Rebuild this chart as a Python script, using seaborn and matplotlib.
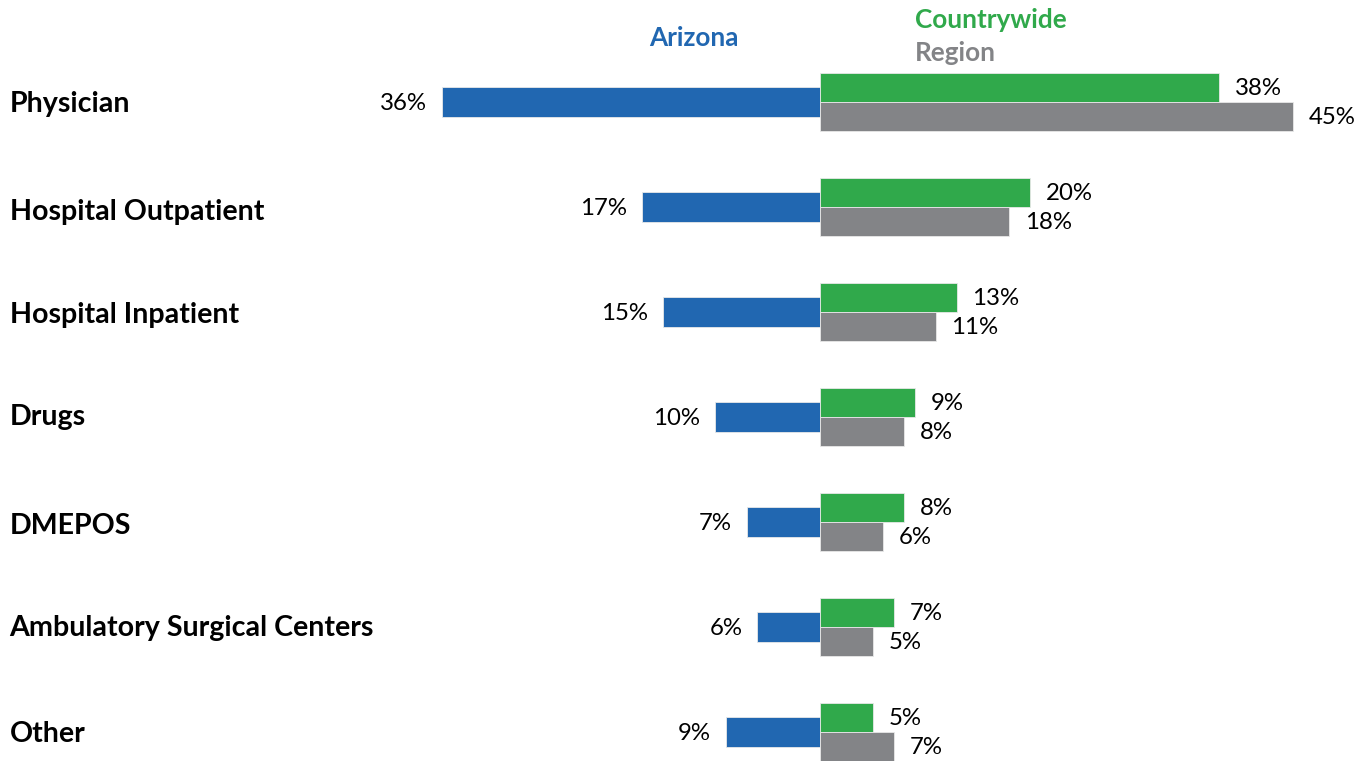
import numpy as np
import pandas as pd
import matplotlib
matplotlib.use("Agg")
import matplotlib.pyplot as plt
import matplotlib.transforms as mtransforms
import seaborn as sns

# ── Data ─────────────────────────────────────────────────────
categories = ["Physician", "Hospital Outpatient", "Hospital Inpatient", "Drugs",
              "DMEPOS", "Ambulatory Surgical Centers", "Other"]
arizona     = [36, 17, 15, 10, 7, 6, 9]
countrywide = [38, 20, 13, 9, 8, 7, 5]
region      = [45, 18, 11, 8, 6, 5, 7]

BLUE, GREEN, GRAY = "#2167B1", "#30A94B", "#838487"

sns.set_style("white")
plt.rcParams["font.family"] = ["Lato", "DejaVu Sans"]

fig = plt.figure(figsize=(13.72, 7.61), dpi=100)
ax = fig.add_axes([0, 0, 1, 1])

az_df = pd.DataFrame({"cat": categories, "val": [-v for v in arizona]})
cr_df = pd.DataFrame({
    "cat": categories * 2,
    "val": countrywide + region,
    "grp": ["Countrywide"] * len(categories) + ["Region"] * len(categories),
})

sns.barplot(data=az_df, x="val", y="cat", orient="h", color=BLUE,
            width=0.28, saturation=1, ax=ax, errorbar=None)
sns.barplot(data=cr_df, x="val", y="cat", hue="grp", orient="h",
            palette=[GREEN, GRAY], width=0.56, saturation=1, ax=ax,
            errorbar=None, legend=False)

for p in ax.patches:
    p.set_edgecolor("#e8e8e8")
    p.set_linewidth(0.6)

ax.set_xlim(-78.1, 52.57)
ax.set_ylim(6.276, -0.971)
ax.axis("off")

pos = np.arange(len(categories))
for i in pos:
    ax.text(-arizona[i] - 1.4, i + 0.01, f"{arizona[i]}%", ha="right", va="center",
            fontsize=17.3, color="black")
    ax.text(countrywide[i] + 1.5, i - 0.13, f"{countrywide[i]}%", ha="left",
            va="center", fontsize=17.3, color="black")
    ax.text(region[i] + 1.5, i + 0.15, f"{region[i]}%", ha="left",
            va="center", fontsize=17.3, color="black")

# category labels on the left
trans = mtransforms.blended_transform_factory(fig.transFigure, ax.transData)
label_offsets = [0.02, 0.05, 0.03, 0.0, 0.04, 0.01, 0.02]
for i, (c, off) in enumerate(zip(categories, label_offsets)):
    ax.text(0.007, i + off, c, transform=trans, ha="left", va="center",
            fontsize=20.6, fontweight="bold", color="black")

# headers
fig.text(694 / 1372, 1 - 38 / 761, "Arizona", ha="center", va="center",
         fontsize=18.8, fontweight="bold", color=BLUE)
fig.text(915 / 1372, 1 - 20 / 761, "Countrywide", ha="left", va="center",
         fontsize=18.8, fontweight="bold", color=GREEN)
fig.text(915 / 1372, 1 - 53 / 761, "Region", ha="left", va="center",
         fontsize=18.8, fontweight="bold", color=GRAY)

plt.savefig("out.png", dpi=100)
